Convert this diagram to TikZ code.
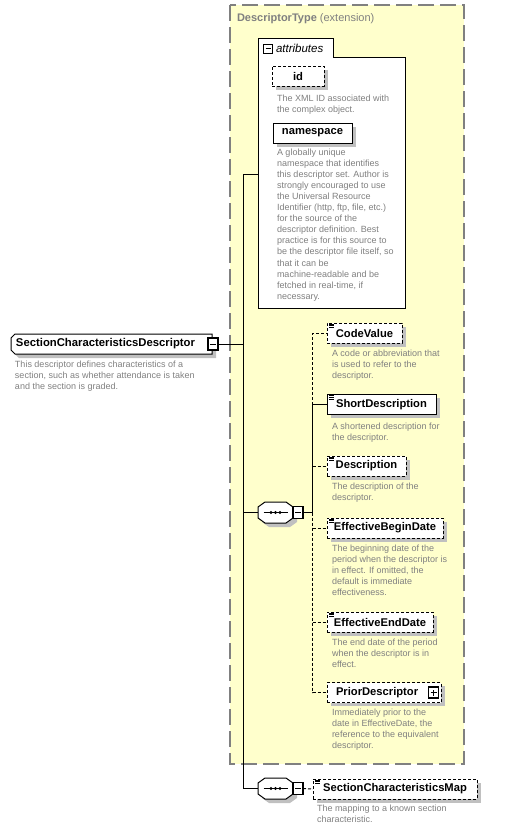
\documentclass[tikz,border=0pt]{standalone}
\usepackage{fontspec}
\setmainfont{Liberation Sans}
\usetikzlibrary{shadows}
\definecolor{descgray}{RGB}{128,128,128}
\definecolor{bgyellow}{RGB}{255,255,204}
\definecolor{shadowgray}{RGB}{192,192,192}
\definecolor{bordergray}{RGB}{128,128,128}
\tikzset{
  octa/.style n args={6}{insert path={(#1+#5,#2) -- (#3-#5,#2) -- (#3,#2+#6) -- (#3,#4-#6) -- (#3-#5,#4) -- (#1+#5,#4) -- (#1,#4-#6) -- (#1,#2+#6) -- cycle}},
}
\begin{document}
\begin{tikzpicture}[x=1pt,y=-1pt,line width=1pt,
  every node/.style={inner sep=0pt,outer sep=0pt},
  elem/.style={draw,fill=white,minimum height=20pt,font=\fontsize{11.2}{13}\selectfont\bfseries,
     drop shadow={shadow xshift=3.5pt,shadow yshift=-3.5pt,fill=shadowgray,opacity=1}},
  opt/.style={dash pattern=on 3pt off 2pt},
  desc/.style={anchor=north west,align=left,text=descgray,font=\fontsize{9}{11.1}\selectfont},
  pmbox/.style={draw,fill=white,line width=1.1pt,minimum width=10pt,minimum height=11pt},
  seqbox/.style={minimum width=35pt,minimum height=21pt},
  optconn/.style={dash pattern=on 3pt off 2pt},
]
\useasboundingbox (0,0) rectangle (505,831);

% extension frame
\draw[bordergray,line width=1.3pt,dash pattern=on 16pt off 6pt,fill=bgyellow] (230,5) rectangle (464,764);
\node[anchor=west,text=descgray,font=\fontsize{11}{13}\selectfont] (dtype) at (237,19) {\textbf{DescriptorType} (extension)};

% attributes box
\path[draw,fill=white] (258,308) -- (258,38) -- (333,38) -- (333,57) -- (405,57) -- (405,308) -- cycle;
\node[minimum width=147pt,minimum height=251pt] (attrbox) at (331.5,182.5) {};
\node[pmbox,line width=1pt,minimum width=9pt,minimum height=9pt] (attrm) at (268,48.5) {};
\draw ([xshift=-2.5pt]attrm.center) -- ([xshift=2.5pt]attrm.center);
\node[anchor=west,font=\fontsize{11.5}{13}\selectfont\itshape] (attrt) at (276,48) {attributes};

\node[elem,opt,minimum width=52pt] (id) at (298,76) {id};
\node[desc] (idd) at (277,94.5) {The XML ID associated with\\the complex object.};
\node[elem,minimum width=79pt] (ns) at (312.5,133) {namespace};
\node[desc] (nsd) at (277,148.5) {A globally unique\\namespace that identifies\\this descriptor set. Author is\\strongly encouraged to use\\the Universal Resource\\Identifier (http, ftp, file, etc.)\\for the source of the\\descriptor definition. Best\\practice is for this source to\\be the descriptor file itself, so\\that it can be\\machine-readable and be\\fetched in real-time, if\\necessary.};

% main element
\path[fill=shadowgray] (19,338) -- (216,338) -- (216,358) -- (19,358) -- (15,354) -- (15,342) -- cycle;
\path[draw,fill=white] (15,334) -- (212,334) -- (212,354) -- (15,354) -- (11,350) -- (11,338) -- cycle;
\node[anchor=west,font=\fontsize{11.3}{13}\selectfont\bfseries] (main) at (16,344) {SectionCharacteristicsDescriptor};
\node[pmbox,minimum height=12pt] (mainm) at (213,344) {};
\draw ([xshift=-3pt]mainm.center) -- ([xshift=3pt]mainm.center);
\node[desc] (maind) at (15,360.5) {This descriptor defines characteristics of a\\section, such as whether attendance is taken\\and the section is graded.};

% sequences
\path[fill=shadowgray,octa={262}{506}{297}{527}{7}{5}];
\path[draw,fill=white,octa={258}{502}{293}{523}{7}{5}];
\node[seqbox] (seq1) at (275.5,512.5) {};
\node[pmbox,minimum height=12pt] (seq1m) at (298,512.5) {};
\draw ([xshift=-3pt]seq1m.center) -- ([xshift=3pt]seq1m.center);
\draw ([xshift=-12pt]seq1.center) -- ([xshift=12pt]seq1.center);
\foreach \dx in {-4.5,0,4.5} \fill ([xshift=\dx pt]seq1.center) circle (1.6pt);

\path[fill=shadowgray,octa={262}{782}{297}{803}{7}{5}];
\path[draw,fill=white,octa={258}{778}{293}{799}{7}{5}];
\node[seqbox] (seq2) at (275.5,788.5) {};
\node[pmbox,minimum height=12pt] (seq2m) at (298,788.5) {};
\draw ([xshift=-3pt]seq2m.center) -- ([xshift=3pt]seq2m.center);
\draw ([xshift=-12pt]seq2.center) -- ([xshift=12pt]seq2.center);
\foreach \dx in {-4.5,0,4.5} \fill ([xshift=\dx pt]seq2.center) circle (1.6pt);

% child elements
\node[elem,opt,minimum width=75pt] (code) at (364.5,333) {CodeValue};
\node[desc] (coded) at (332,349.5) {A code or abbreviation that\\is used to refer to the\\descriptor.};
\node[elem,minimum width=109pt] (short) at (381.5,404.5) {ShortDescription};
\node[desc] (shortd) at (332,422.5) {A shortened description for\\the descriptor.};
\node[elem,opt,minimum width=79pt] (descr) at (366.5,466) {Description};
\node[desc] (descrd) at (332,482.5) {The description of the\\descriptor.};
\node[elem,opt,minimum width=116pt] (bdate) at (385,528) {EffectiveBeginDate};
\node[desc] (bdated) at (332,544.5) {The beginning date of the\\period when the descriptor is\\in effect. If omitted, the\\default is immediate\\effectiveness.};
\node[elem,opt,minimum width=106pt] (edate) at (380,622) {EffectiveEndDate};
\node[desc] (edated) at (332,638.5) {The end date of the period\\when the descriptor is in\\effect.};
\node[elem,opt,minimum width=114pt] (prior) at (384,692.5) {\makebox[96pt][l]{PriorDescriptor}};
\node[pmbox] (priorp) at (433.5,692.5) {};
\draw ([xshift=-3pt]priorp.center) -- ([xshift=3pt]priorp.center);
\draw ([yshift=-3pt]priorp.center) -- ([yshift=3pt]priorp.center);
\node[desc] (priord) at (332,708.5) {Immediately prior to the\\date in EffectiveDate, the\\reference to the equivalent\\descriptor.};
\node[elem,opt,minimum width=164pt] (map) at (395,789) {SectionCharacteristicsMap};
\node[desc] (mapd) at (317,804.5) {The mapping to a known section\\characteristic.};

% element icons
\foreach \n in {code,short,descr,bdate,edate,map}
  \foreach \d in {0.9,2.7,4.5}
    \draw[line width=0.8pt] ([shift={(2,\d)}]\n.north west) -- ++(5,0);

% connectors
\coordinate (ja) at (243,174);
\coordinate (jb) at (243,788.5);
\coordinate (k) at (312.5,512.5);
\draw (mainm.east) -- (mainm.east -| ja);
\draw (ja -| attrbox.west) -- (ja) -- (jb) -- (seq2.west);
\draw (seq1.west -| ja) -- (seq1.west);
\draw (seq1m.east) -- (k) -- (k |- short.west) -- (short.west);
\draw[optconn] (short.west -| k) -- (code.west -| k) -- (code.west);
\draw[optconn] (k) -- (prior.west -| k) -- (prior.west);
\draw[optconn] (descr.west -| k) -- (descr.west);
\draw[optconn] (bdate.west -| k) -- (bdate.west);
\draw[optconn] (edate.west -| k) -- (edate.west);
\draw[optconn] (seq2m.east) -- (map.west);
\end{tikzpicture}
\end{document}
